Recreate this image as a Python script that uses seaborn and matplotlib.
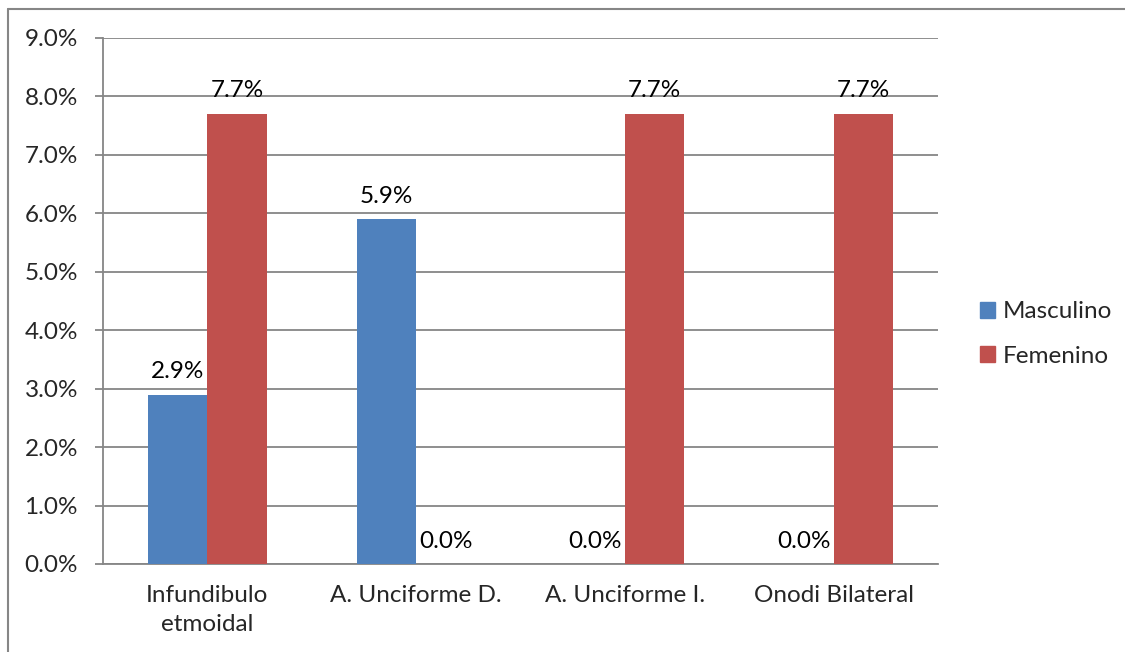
import matplotlib.pyplot as plt
import matplotlib.patches as mpatches
from matplotlib.lines import Line2D
from matplotlib.ticker import FixedLocator
import seaborn as sns
import pandas as pd

# Data
categorias = ["Infundibulo\netmoidal", "A. Unciforme D.", "A. Unciforme I.", "Onodi Bilateral"]
masculino = [2.9, 5.9, 0.0, 0.0]
femenino = [7.7, 0.0, 7.7, 7.7]
series = ["Masculino", "Femenino"]
colores = ["#4F81BD", "#C0504D"]

df = pd.DataFrame({
    "Categoria": categorias * 2,
    "Sexo": [series[0]] * len(categorias) + [series[1]] * len(categorias),
    "Valor": masculino + femenino,
})

sns.set_style("white")
plt.rcParams["font.family"] = ["Lato", "DejaVu Sans"]
fs = 17.5

fig = plt.figure(figsize=(11.25, 6.52), dpi=100)
ax = fig.add_axes([103 / 1125, 1 - 564 / 652, (938 - 103) / 1125, (564 - 38) / 652])

sns.barplot(data=df, x="Categoria", y="Valor", hue="Sexo", palette=colores,
            width=0.57, gap=0, saturation=1, ax=ax, zorder=3, edgecolor="none", linewidth=0)

# Labels on bars
for cont in ax.containers:
    ax.bar_label(cont, labels=[f"{v:.1f}%" for v in cont.datavalues], padding=9,
                 fontsize=fs, color="#000000")

ax.set_ylim(0, 9)
ax.set_xlim(-0.5, len(categorias) - 0.5)
ax.set_yticks(range(0, 10))
ax.set_yticklabels([f"{v:.1f}%" for v in range(0, 10)], fontsize=fs)
ax.set_xticks(range(len(categorias)))
ax.set_xticklabels(categorias, fontsize=fs, linespacing=1.5)
ax.xaxis.set_minor_locator(FixedLocator([i - 0.5 for i in range(len(categorias) + 1)]))
ax.tick_params(axis="x", which="major", length=0, pad=15)
ax.tick_params(axis="x", which="minor", length=6, color="#868686", width=1.3)
ax.tick_params(axis="y", length=6, color="#868686", width=1.3, pad=12, left=True)
ax.set_xlabel("")
ax.set_ylabel("")

ax.grid(axis="y", color="#868686", linewidth=1.3, zorder=0)
ax.set_axisbelow(True)
for s in ["top", "right"]:
    ax.spines[s].set_visible(False)
for s in ["left", "bottom"]:
    ax.spines[s].set_color("#868686")
    ax.spines[s].set_linewidth(1.3)

# Legend
ax.get_legend().remove()
handles = [mpatches.Patch(color=c, label=l) for c, l in zip(colores, series)]
fig.legend(handles=handles, loc="center left", bbox_to_anchor=(980 / 1125, 1 - 334 / 652),
           frameon=False, fontsize=fs, handlelength=0.62, handleheight=0.62,
           handletextpad=0.3, labelspacing=0.95, borderpad=0, borderaxespad=0)

# Outer chart border (top and left edges only visible)
x0, y0 = 8 / 1125, 1 - 9 / 652
fig.lines.append(Line2D([x0, 1], [y0, y0], transform=fig.transFigure,
                        color="#868686", linewidth=1.5))
fig.lines.append(Line2D([x0, x0], [0, y0], transform=fig.transFigure,
                        color="#868686", linewidth=1.5))

fig.savefig("out.png", dpi=100)
